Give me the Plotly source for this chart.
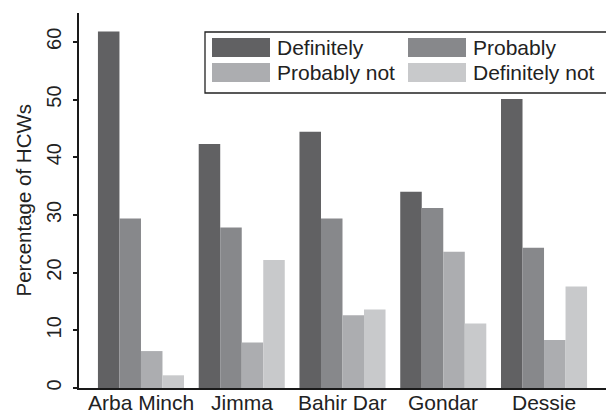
import plotly.graph_objects as go

sites = ["Arba Minch", "Jimma", "Bahir Dar", "Gondar", "Dessie"]
series_names = ["Definitely", "Probably", "Probably not", "Definitely not"]
definitely = [61.8, 42.3, 44.4, 34.0, 50.1]
probably = [29.4, 27.8, 29.4, 31.2, 24.3]
probably_not = [6.4, 7.9, 12.6, 23.6, 8.3]
definitely_not = [2.2, 22.2, 13.6, 11.2, 17.6]
colors = ["#616163", "#87888b", "#acadb0", "#c8c9cb"]
y_ticks = [0, 10, 20, 30, 40, 50, 60]

values = [definitely, probably, probably_not, definitely_not]

FONT = "Liberation Sans, Arial, sans-serif"
W, H = 606, 412
ML, MR, MT, MB = 79, 0, 13, 24
PW, PH = W - ML - MR, H - MT - MB

fig = go.Figure()
for name, vals, col in zip(series_names, values, colors):
    fig.add_trace(go.Bar(x=sites, y=vals, name=name, marker_color=col,
                         marker_line_width=0, showlegend=False, hoverinfo="skip"))

def px_x(p):
    return (p - ML) / PW

def px_y(p):
    return 1 - (p - MT) / PH

shapes = [dict(type="rect", xref="paper", yref="paper",
               x0=px_x(205), x1=px_x(640), y0=px_y(93), y1=px_y(32),
               line=dict(color="#222", width=1.3), fillcolor="white", layer="above")]
annotations = []
pos = [(212, 38), (408, 38), (212, 63), (408, 63)]
for (sx, sy), name, col in zip(pos, series_names, colors):
    shapes.append(dict(type="rect", xref="paper", yref="paper",
                       x0=px_x(sx), x1=px_x(sx + 58), y0=px_y(sy + 19), y1=px_y(sy),
                       line=dict(width=0), fillcolor=col, layer="above"))
    annotations.append(dict(xref="paper", yref="paper", x=px_x(sx + 63), y=px_y(sy + 9.5),
                            text=name, showarrow=False, xanchor="left", yanchor="middle",
                            font=dict(family=FONT, size=21, color="#222")))

# category labels under the axis
for s in sites:
    annotations.append(dict(xref="x", yref="paper", x=s, y=0, yanchor="top", yshift=-1,
                            text=s, showarrow=False, xanchor="center",
                            font=dict(family=FONT, size=21, color="#222")))

annotations.append(dict(xref="paper", yref="paper", x=0, y=0.5, xshift=-56,
                        text="Percentage of HCWs", textangle=-90, showarrow=False,
                        xanchor="center", yanchor="middle",
                        font=dict(family=FONT, size=20.5, color="#222")))

fig.update_layout(
    width=W, height=H,
    margin=dict(l=ML, r=MR, t=MT, b=MB, pad=0, autoexpand=False),
    paper_bgcolor="white", plot_bgcolor="white",
    barmode="group", bargap=0.146, bargroupgap=0,
    font=dict(family=FONT, size=20.5, color="#222"),
    shapes=shapes, annotations=annotations,
    xaxis=dict(range=[-0.615, 4.615], showline=True, linecolor="#1a1a1a", linewidth=2,
               ticks="", showgrid=False, zeroline=False, automargin=False,
               showticklabels=False),
    yaxis=dict(range=[0, 65], tickvals=y_ticks, showline=True, linecolor="#1a1a1a",
               linewidth=2, ticks="outside", ticklen=4, tickwidth=1.5, tickcolor="#1a1a1a",
               tickangle=-90, showgrid=False, zeroline=False, ticklabelstandoff=4,
               automargin=False,
               tickfont=dict(family=FONT, size=20, color="#222")),
)

fig.write_html("out.html", config={"displayModeBar": False},
               post_script="document.body.style.margin='0';document.body.style.overflow='hidden';")
